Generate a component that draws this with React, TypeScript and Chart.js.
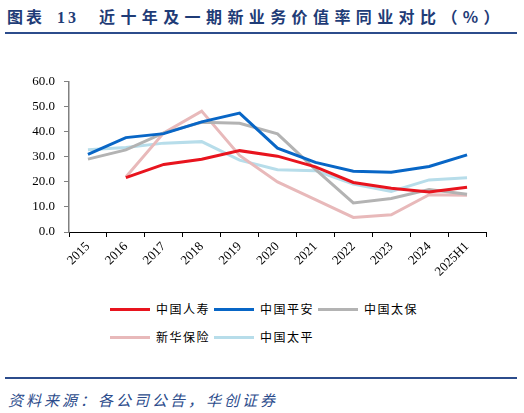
import React, { useEffect, useRef } from 'react';
import { Chart, registerables } from 'chart.js';

Chart.register(...registerables);

const categories = ['2015', '2016', '2017', '2018', '2019', '2020', '2021', '2022', '2023', '2024', '2025H1'];

const chinaLife = [null, 21.7, 27.0, 29.1, 32.5, 30.3, 26.0, 19.8, 17.5, 16.0, 17.9];
const pingAn = [31.0, 37.7, 39.3, 44.0, 47.5, 33.5, 27.8, 24.3, 23.9, 26.2, 30.8];
const cpic = [29.1, 32.8, 39.6, 43.8, 43.4, 39.2, 25.0, 11.6, 13.4, 17.0, 15.1];
const newChina = [null, 22.0, 39.6, 48.3, 30.6, 20.0, 12.9, 5.8, 6.9, 14.9, 14.7];
const taiping = [32.9, 33.8, 35.5, 36.1, 28.7, 24.9, 24.5, 19.2, 16.2, 20.8, 21.7];

const seriesNames = ['中国人寿', '中国平安', '中国太保', '新华保险', '中国太平'];
const seriesColors = ['#E8141E', '#0866C6', '#B3B3B3', '#E8B9BA', '#B7DDEA'];

const yTicks = [0, 10, 20, 30, 40, 50, 60];

const App: React.FC = () => {
  const chartRef = useRef<HTMLCanvasElement>(null);
  const chartInstance = useRef<Chart | null>(null);

  useEffect(() => {
    document.body.style.margin = '0';
    if (!chartRef.current) return;
    const ctx = chartRef.current.getContext('2d');
    if (!ctx) return;

    const values = [chinaLife, pingAn, cpic, newChina, taiping];

    chartInstance.current = new Chart(ctx, {
      type: 'line',
      data: {
        labels: categories,
        datasets: values.map((d, i) => ({
          label: seriesNames[i],
          data: d,
          borderColor: seriesColors[i],
          backgroundColor: seriesColors[i],
          borderWidth: 3,
          pointRadius: 0,
          tension: 0,
          spanGaps: false,
        })),
      },
      options: {
        animation: false,
        responsive: false,
        maintainAspectRatio: false,
        layout: { padding: { top: 10, right: 14, left: 0, bottom: 0 } },
        plugins: {
          legend: { display: false },
          tooltip: { enabled: false },
        },
        scales: {
          x: {
            offset: true,
            afterFit: (scale: any) => {
              scale.height = 63;
            },
            grid: {
              display: true,
              offset: true,
              drawOnChartArea: false,
              tickLength: 5,
              color: '#000000',
            },
            border: { color: '#000000', width: 1 },
            ticks: {
              minRotation: 45,
              maxRotation: 45,
              autoSkip: false,
              color: '#000000',
              padding: 2,
              font: { family: 'Liberation Serif', size: 13 },
            },
          },
          y: {
            min: 0,
            max: 60,
            afterFit: (scale: any) => {
              scale.width = 69;
            },
            afterBuildTicks: (scale: any) => {
              scale.ticks = yTicks.map((v) => ({ value: v }));
            },
            grid: {
              display: true,
              drawOnChartArea: false,
              tickLength: 5,
              color: '#808080',
            },
            border: { color: '#808080', width: 1.5 },
            ticks: {
              color: '#000000',
              padding: 9,
              font: { family: 'Liberation Serif', size: 13 },
              callback: (v: any) => Number(v).toFixed(1),
            },
          },
        },
      },
    });

    return () => {
      if (chartInstance.current) {
        chartInstance.current.destroy();
        chartInstance.current = null;
      }
    };
  }, []);

  const legendRows = [
    [0, 1, 2],
    [3, 4],
  ];

  return (
    <div style={{ position: 'relative', width: 524, height: 413, background: '#ffffff', overflow: 'hidden' }}>
      <div
        style={{
          position: 'absolute',
          left: 7,
          top: 4,
          fontFamily: '"Noto Sans CJK SC", sans-serif',
          fontWeight: 700,
          fontSize: 16,
          color: '#1F3C77',
          whiteSpace: 'nowrap',
          letterSpacing: 3,
        }}
      >
        <span>图表</span>
        <span style={{ fontFamily: 'Liberation Serif', marginLeft: 12 }}>13</span>
        <span style={{ marginLeft: 20, letterSpacing: 5.4 }}>近十年及一期新业务价值率同业对比（%）</span>
      </div>
      <div style={{ position: 'absolute', left: 5, top: 32, width: 512, height: 2, background: '#2C4C8C' }} />

      <canvas
        ref={chartRef}
        width={500}
        height={230}
        style={{ position: 'absolute', left: 0, top: 65, width: 500, height: 230 }}
      />

      {legendRows.map((row, r) => (
        <div key={r} style={{ position: 'absolute', left: 110, top: 301 + r * 28, display: 'flex' }}>
          {row.map((i) => (
            <div key={i} style={{ display: 'flex', alignItems: 'center', width: 104 }}>
              <div style={{ width: 40, height: 3, background: seriesColors[i], marginRight: 6 }} />
              <span
                style={{
                  fontFamily: '"Noto Sans CJK SC", sans-serif',
                  fontSize: 12,
                  letterSpacing: 1.5,
                  color: '#000000',
                  lineHeight: '16px',
                }}
              >
                {seriesNames[i]}
              </span>
            </div>
          ))}
        </div>
      ))}

      <div style={{ position: 'absolute', left: 5, top: 377, width: 512, height: 2, background: '#2C4C8C' }} />
      <div
        style={{
          position: 'absolute',
          left: 8,
          top: 389,
          fontFamily: '"Noto Sans CJK SC", sans-serif',
          fontStyle: 'italic',
          fontSize: 15,
          letterSpacing: 3,
          color: '#2C4C8C',
          whiteSpace: 'nowrap',
        }}
      >
        资料来源：各公司公告，华创证券
      </div>
    </div>
  );
};

export default App;
